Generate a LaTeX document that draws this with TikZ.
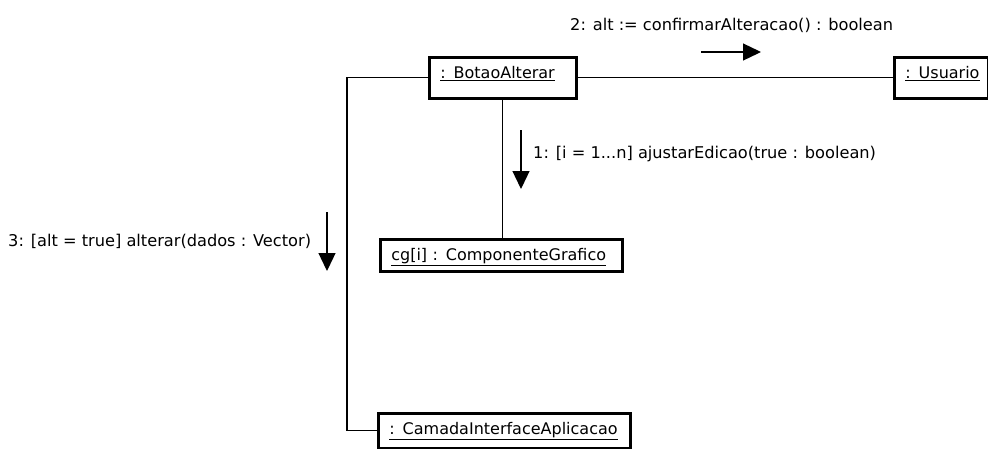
\documentclass[tikz,border=0pt]{standalone}
\usepackage{fontspec}
\setmainfont{DejaVu Sans}
\usetikzlibrary{arrows.meta}
\begin{document}
\begin{tikzpicture}[x=1pt,y=-1pt,
  obj/.style={draw=black, line width=2.6pt, anchor=north west, inner xsep=11pt,
    inner ysep=4pt, text height=17pt, align=left, font=\fontsize{16}{18}\selectfont},
  conn/.style={draw=black, line width=1.3pt},
  msg/.style={draw=black, line width=1.3pt, -{Triangle[width=17pt,length=18pt]}},
  lbl/.style={font=\fontsize{16.2}{18}\selectfont, inner sep=0pt}]
\useasboundingbox (0,0) rectangle (988,448);
\fill[white] (0,0) rectangle (988,448);

% objects
\node[obj, text width=125pt, text depth=16pt] (b) at (428,56) {\underline{: BotaoAlterar}};
\node[obj, text width=72pt, text depth=16pt] (u) at (893,56) {\underline{: Usuario}};
\node[obj, text width=220pt, text depth=7pt] (g) at (379,238) {\underline{cg[i] : ComponenteGrafico}};
\node[obj, text width=230pt, text depth=10pt] (c) at (377,412) {\underline{: CamadaInterfaceAplicacao}};

% links
\draw[conn] (b.east) -- (u.west);
\draw[conn] (b.south) -- (b.south |- g.north);
\coordinate (lc) at (347,0);
\draw[conn] (b.west) -- (lc |- b.west) -- (lc |- c.west) -- (c.west);

% messages
\coordinate (m1a) at (521,130);
\coordinate (m1b) at (521,189);
\draw[msg] (m1a) -- (m1b);
\node[lbl, anchor=west] (t1) at (533,154) {1: [i = 1...n] ajustarEdicao(true : boolean)};

\coordinate (m2a) at (701,52);
\coordinate (m2b) at (761,52);
\draw[msg] (m2a) -- (m2b);
\node[lbl, anchor=west] (t2) at (570,25) {2: alt := confirmarAlteracao() : boolean};

\coordinate (m3a) at (327,212);
\coordinate (m3b) at (327,271);
\draw[msg] (m3a) -- (m3b);
\node[lbl, anchor=west] (t3) at (8,241) {3: [alt = true] alterar(dados : Vector)};
\end{tikzpicture}
\end{document}
